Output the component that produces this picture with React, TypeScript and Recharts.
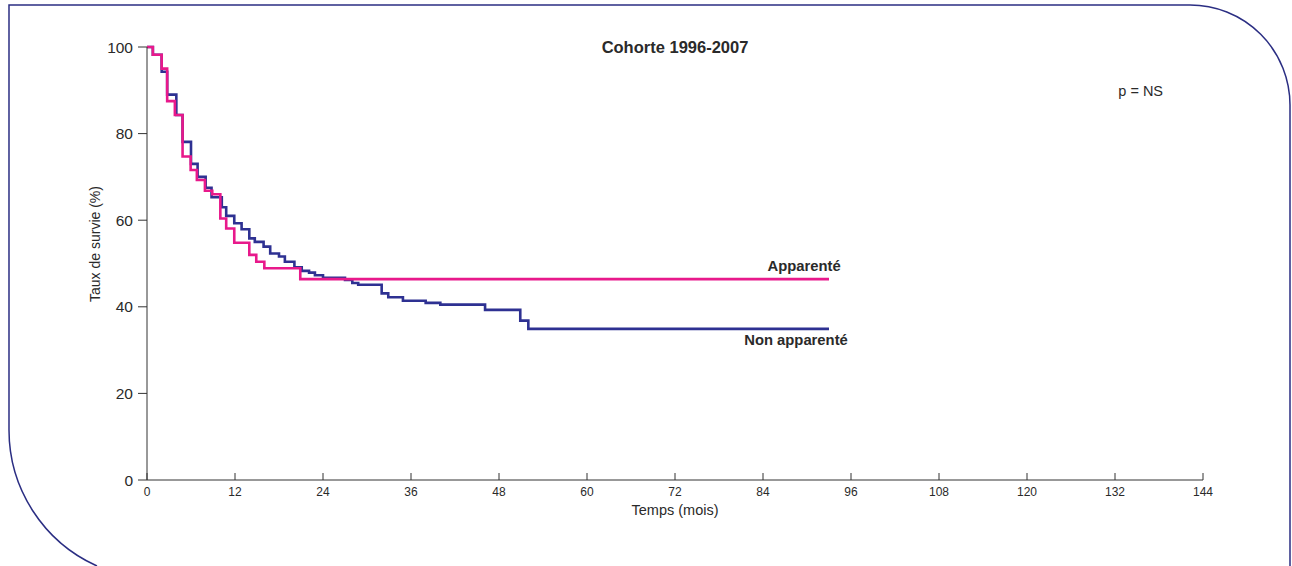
import React from "react";
import {
  LineChart,
  Line,
  XAxis,
  YAxis,
  Label,
  ReferenceDot,
} from "recharts";

// Kaplan-Meier curves
const apparenteTimes = [0, 0.8, 2.0, 2.75, 3.8, 4.85, 5.95, 6.8, 7.9, 8.9, 10.0, 10.8, 11.9, 13.95, 14.9, 16.0, 20.9, 93];
const apparenteSurv = [100, 98.2, 95, 87.5, 84.3, 74.7, 71.6, 69.3, 66.8, 66.0, 60.4, 58.1, 54.8, 52.0, 50.4, 48.9, 46.4, 46.4];

const nonApparenteTimes = [
  0, 0.8, 2.0, 2.75, 4.0, 4.85, 6.0, 6.9, 8.0, 8.8, 10.2, 10.8, 11.9, 12.9, 13.95, 14.7, 15.9, 16.8, 18.0, 18.8,
  20.1, 21.1, 22.1, 22.9, 24.0, 27.0, 28.0, 28.8, 32.0, 32.9, 34.9, 38.0, 40.0, 46.1, 50.9, 52.0, 93,
];
const nonApparenteSurv = [
  100, 98.2, 94.3, 89, 84.3, 78.1, 73, 70, 67.5, 65.3, 63, 61.0, 59.3, 57.9, 55.8, 55.0, 53.9, 52.3, 51.6, 50.4,
  49.1, 48.3, 47.9, 47.3, 46.7, 46.2, 45.5, 45.1, 43.1, 42.2, 41.4, 40.9, 40.5, 39.3, 36.8, 34.9, 34.9,
];

const xTicks = [0, 12, 24, 36, 48, 60, 72, 84, 96, 108, 120, 132, 144];
const yTicks = [0, 20, 40, 60, 80, 100];

const toRows = (times: number[], surv: number[]) => times.map((t, i) => ({ t, s: surv[i] }));
const apparente = toRows(apparenteTimes, apparenteSurv);
const nonApparente = toRows(nonApparenteTimes, nonApparenteSurv);

const FONT = "'Liberation Sans', Arial, sans-serif";
const TEXT = "#2a2a2a";
const PINK = "#e8198b";
const NAVY = "#2e3192";

const XTick = (props: any) => {
  const { x, y, payload } = props;
  return (
    <g>
      <line x1={x} y1={y} x2={x} y2={y - 7} stroke="#333" strokeWidth={1} />
      <text x={x} y={y + 16} textAnchor="middle" fontSize={12} fill={TEXT} fontFamily={FONT}>
        {payload.value}
      </text>
    </g>
  );
};

const textLabel = (text: string, size: number, bold: boolean) => (props: any) => {
  const vb = props.viewBox || {};
  return (
    <text
      x={vb.x}
      y={vb.y}
      textAnchor="middle"
      dominantBaseline="central"
      fontSize={size}
      fontWeight={bold ? "bold" : "normal"}
      fill={TEXT}
      fontFamily={FONT}
    >
      {text}
    </text>
  );
};

const App = () => {
  return (
    <div style={{ position: "absolute", left: 0, top: 0, width: 1292, height: 566, background: "#fff" }}>
      <svg width={1292} height={566} style={{ position: "absolute", left: 0, top: 0 }}>
        <path
          d="M 97 566 A 149 149 0 0 1 9 430 L 9 5 L 1190 5 A 100 100 0 0 1 1290 105 L 1290 566"
          fill="none"
          stroke="#2b2e83"
          strokeWidth={1.5}
        />
      </svg>
      <div style={{ position: "absolute", left: 0, top: 0 }}>
        <LineChart width={1292} height={566} margin={{ top: 47, right: 89, bottom: 46, left: 0 }}>
          <XAxis
            type="number"
            dataKey="t"
            domain={[0, 144]}
            ticks={xTicks}
            interval={0}
            height={40}
            stroke="#333"
            tickLine={false}
            tickSize={0}
            tickMargin={0}
            tick={<XTick />}
          >
            <Label
              content={(p: any) => {
                const vb = p.viewBox;
                return (
                  <text
                    x={vb.x + vb.width / 2}
                    y={vb.y + 30}
                    textAnchor="middle"
                    dominantBaseline="central"
                    fontSize={14.5}
                    fill={TEXT}
                    fontFamily={FONT}
                  >
                    Temps (mois)
                  </text>
                );
              }}
            />
          </XAxis>
          <YAxis
            type="number"
            domain={[0, 100]}
            ticks={yTicks}
            interval={0}
            width={147}
            stroke="#333"
            tickSize={9}
            tickMargin={5}
            tick={{ fontSize: 15.5, fill: TEXT, fontFamily: FONT }}
          >
            <Label
              content={() => (
                <text
                  x={95}
                  y={244}
                  transform="rotate(-90 95 244)"
                  textAnchor="middle"
                  dominantBaseline="central"
                  fontSize={14}
                  fill={TEXT}
                  fontFamily={FONT}
                >
                  Taux de survie (%)
                </text>
              )}
            />
          </YAxis>
          <Line
            data={nonApparente}
            dataKey="s"
            type="stepAfter"
            stroke={NAVY}
            strokeWidth={2.6}
            dot={false}
            activeDot={false}
            isAnimationActive={false}
          />
          <Line
            data={apparente}
            dataKey="s"
            type="stepAfter"
            stroke={PINK}
            strokeWidth={2.6}
            dot={false}
            activeDot={false}
            isAnimationActive={false}
          />
          <ReferenceDot x={72} y={100} r={0} fill="none" stroke="none" ifOverflow="visible" label={{ content: textLabel("Cohorte 1996-2007", 16.5, true) }} />
          <ReferenceDot x={135.5} y={89.8} r={0} fill="none" stroke="none" ifOverflow="visible" label={{ content: textLabel("p = NS", 14.5, false) }} />
          <ReferenceDot x={89.6} y={49.4} r={0} fill="none" stroke="none" ifOverflow="visible" label={{ content: textLabel("Apparenté", 14.8, true) }} />
          <ReferenceDot x={88.5} y={32.3} r={0} fill="none" stroke="none" ifOverflow="visible" label={{ content: textLabel("Non apparenté", 14.8, true) }} />
        </LineChart>
      </div>
    </div>
  );
};

export default App;
